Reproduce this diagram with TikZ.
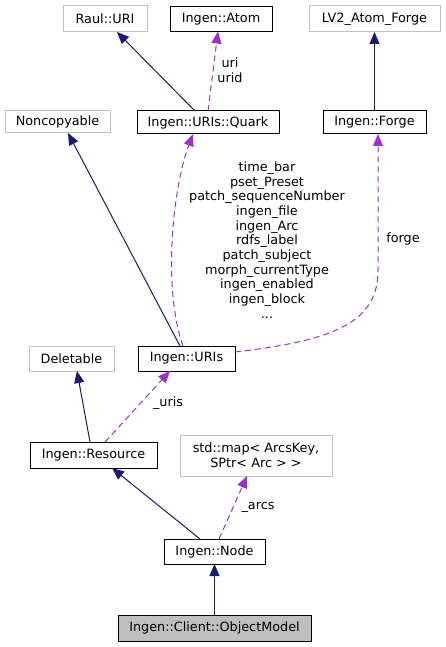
\documentclass[tikz,border=0pt]{standalone}
\usepackage{fontspec}
\setmainfont{DejaVu Sans}
\usetikzlibrary{arrows.meta,calc}
\definecolor{navy}{HTML}{191970}
\definecolor{orchid}{HTML}{9A32CD}
\definecolor{boxgray}{HTML}{BFBFBF}
\begin{document}
\begin{tikzpicture}[x=1pt,y=-1pt,
  every node/.style={font=\fontsize{12.8}{14.7}\selectfont,inner sep=0pt,outer sep=0pt},
  gbox/.style={draw=boxgray,line width=1pt,fill=white,minimum width=#1},
  bbox/.style={draw=black,line width=1pt,fill=white,minimum width=#1},
  inh/.style={draw=navy,line width=1pt,-{Triangle[length=12pt,width=10pt]},color=navy},
  use/.style={draw=orchid,line width=1pt,dash pattern=on 6pt off 4pt,-{Triangle[length=12pt,width=10pt]},color=orchid},
  lbl/.style={align=center,text=black}]
\useasboundingbox (0,0) rectangle (445,647);
\fill[white] (0,0) rectangle (445,647);
% nodes
\node[gbox=84, minimum height=26] (uri) at (105,19) {Raul::URI};
\node[bbox=102, minimum height=25] (atom) at (221,19) {Ingen::Atom};
\node[gbox=131, minimum height=26] (lv2) at (374.5,19) {LV2\_Atom\_Forge};
\node[gbox=105, minimum height=22] (nonc) at (57.5,122) {Noncopyable};
\node[bbox=142, minimum height=23] (quark) at (208,122.5) {Ingen::URIs::Quark};
\node[bbox=103, minimum height=23] (forge) at (374.5,122.5) {Ingen::Forge};
\node[gbox=85, minimum height=25] (del) at (71.5,358.5) {Deletable};
\node[bbox=97, minimum height=25] (uris) at (186.5,358.5) {Ingen::URIs};
\node[bbox=127, minimum height=26] (res) at (93.5,455) {Ingen::Resource};
\node[gbox=152, minimum height=41, align=center] (map) at (256,455.5) {std::map< ArcsKey,\\ SPtr< Arc > >};
\node[bbox=101, minimum height=25] (node) at (214.5,551.5) {Ingen::Node};
\node[bbox=193, minimum height=26, fill=boxgray] (om) at (214.5,628) {Ingen::Client::ObjectModel};
% edges
\draw[inh] ([xshift=-13pt]quark.north) -- ([xshift=12pt]uri.south);
\draw[use] (quark.north) -- ([xshift=-3pt]atom.south);
\node[lbl] (l1) at (230,70) {uri\\urid};
\draw[inh] (forge.north) -- (lv2.south);
\draw[inh] ([xshift=-6.5pt]uris.north) -- ([xshift=10.5pt]nonc.south);
\draw[use] ([xshift=-3.5pt]uris.north) .. controls (163,290) and (172,190) .. ([xshift=-15pt]quark.south);
\node[lbl] (l2) at (267,240) {time\_bar\\pset\_Preset\\patch\_sequenceNumber\\ingen\_file\\ingen\_Arc\\rdfs\_label\\patch\_subject\\morph\_currentType\\ingen\_enabled\\ingen\_block\\...};
\coordinate (fk) at (378,270);
\draw[use] ([yshift=6.5pt]uris.east) .. controls (340,340) and (378,320) .. (fk) -- ([xshift=3.5pt]forge.south);
\node[lbl] (l3) at (403,239) {forge};
\draw[inh] ([xshift=-3.5pt]res.north) -- ([xshift=5.5pt]del.south);
\draw[use] ([xshift=11.5pt]res.north) -- ([xshift=-16.5pt]uris.south);
\node[lbl] (l4) at (168,403) {\_uris};
\draw[inh] ([xshift=-14.5pt]node.north) -- ([xshift=18.5pt]res.south);
\draw[use] ([xshift=4.5pt]node.north) -- ([xshift=-9pt]map.south);
\node[lbl] (l5) at (258,507) {\_arcs};
\draw[inh] (om.north) -- (node.south);
\end{tikzpicture}
\end{document}
